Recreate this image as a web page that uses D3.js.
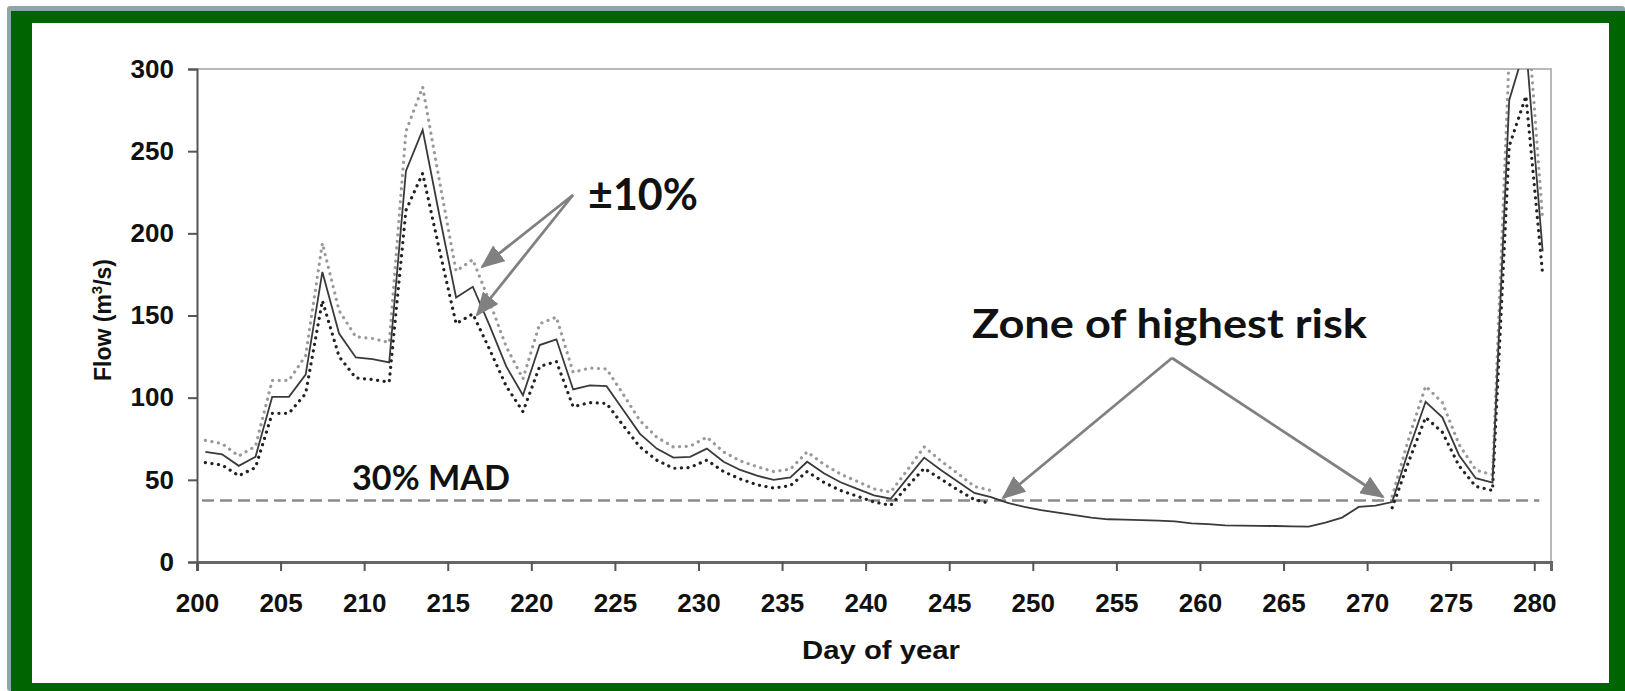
<!DOCTYPE html>
<html>
<head>
<meta charset="utf-8">
<script src="https://cdn.jsdelivr.net/npm/d3@7"></script>
<style>
  html, body { margin: 0; padding: 0; background: #fff; }
  svg { display: block; }
</style>
</head>
<body>
<svg id="chart" width="1625" height="691"></svg>
<script>
// ---------------- DATA ----------------
const days = [200,201,202,203,204,205,206,207,208,209,210,211,212,213,214,215,216,217,218,219,
  220,221,222,223,224,225,226,227,228,229,230,231,232,233,234,235,236,237,238,239,
  240,241,242,243,244,245,246,247,248,249,250,251,252,253,254,255,256,257,258,259,
  260,261,262,263,264,265,266,267,268,269,270,271,272,273,274,275,276,277,278,279,280];

const flow = [67,65.5,58.5,64,100.5,100.5,114,176.5,139,124.5,123.5,121.5,238,263,211,161,167.5,144,119,101.5,
  132,135.5,105,107.5,107,92.5,78,69,63.5,64,69,61,56,52.5,50,51.5,61,54,48.5,44.5,
  40.5,38.5,51,63.5,56,49,42,39.5,36,33.5,31.5,30,28.5,27,26,25.8,25.5,25.2,24.7,23.5,
  23,22.3,22.1,22,21.9,21.7,21.5,24,27,33.5,34.3,36.5,68.5,97.5,88,65,51,48.3,281,315,189];

const flowUpper = [74,72,64.5,70.5,110.5,110.5,125.5,194,153,137,136,133.5,262,289,232,177,184,158.5,131,111.5,
  145,149,115.5,118,117.5,102,86,76,70,70.5,76,67,61.5,58,55,56.5,67,59.5,53.5,49,
  44.5,42.5,56,70,61.5,54,46,43.5,null,null,null,null,null,null,null,null,null,null,null,null,
  null,null,null,null,null,null,null,null,null,null,null,40,75.5,107,97,71.5,56,53,309,346,208];

const flowLower = [60.5,59,52.5,57.5,90.5,90.5,102.5,159,125,112,111,109.5,214,236.5,190,145,151,129.5,107,91.5,
  119,122,94.5,97,96.5,83,70,62,57,57.5,62,55,50.5,47,45,46.5,55,48.5,43.5,40,
  36.5,34.5,46,57,50.5,44,38,35.5,null,null,null,null,null,null,null,null,null,null,null,null,
  null,null,null,null,null,null,null,null,null,null,null,33,61.5,88,79,58.5,46,43.5,253,283.5,175];

const madValue = 37.5;
const yTicks = [0,50,100,150,200,250,300];
const xTicks = [200,205,210,215,220,225,230,235,240,245,250,255,260,265,270,275,280];

(function(){
// ---------------- LAYOUT ----------------
const svg = d3.select("#chart");
const W = 1625, H = 691;
const pL = 197, pR = 1551, pT = 69, pB = 562;
const axisFont = "'Liberation Sans', Arial, sans-serif";

// frame
svg.append("rect").attr("x",0).attr("y",0).attr("width",W).attr("height",H).attr("fill","#ffffff");
svg.append("rect").attr("x",7).attr("y",6).attr("width",W-7).attr("height",H-6).attr("rx",3).attr("fill","#8fa5ab");
svg.append("rect").attr("x",11).attr("y",11).attr("width",W-11).attr("height",H-11).attr("fill","#006400");
svg.append("rect").attr("x",32).attr("y",23).attr("width",1609-32).attr("height",683-23).attr("fill","#ffffff");

const x = d3.scaleLinear().domain([200, 281]).range([pL, pR]);
const y = d3.scaleLinear().domain([0, 300]).range([pB, pT]);
const px = d => x(d + 0.5);

const defs = svg.append("defs");
defs.append("clipPath").attr("id","plotclip")
  .append("rect").attr("x",pL).attr("y",pT).attr("width",pR-pL).attr("height",pB-pT);

// top/right frame of plot
svg.append("path")
  .attr("d", `M${pL},${pT}H${pR}V${pB}`)
  .attr("fill","none").attr("stroke","#b8b8b8").attr("stroke-width",2);

// Y axis
const yAxis = svg.append("g").attr("transform",`translate(${pL},0)`)
  .call(d3.axisLeft(y).tickValues(yTicks).tickSize(9).tickPadding(14).tickFormat(d3.format("d")));
yAxis.select(".domain").attr("stroke","#555").attr("stroke-width",2);
yAxis.selectAll(".tick line").attr("stroke","#555").attr("stroke-width",2);
yAxis.selectAll(".tick text").attr("font-family",axisFont)
  .attr("font-weight","bold").attr("font-size",26).attr("fill","#111");

// X axis ticks
const xAxisT = svg.append("g").attr("transform",`translate(0,${pB})`)
  .call(d3.axisBottom(x).tickValues(xTicks).tickSize(9).tickFormat(""));
xAxisT.select(".domain").attr("stroke","#666").attr("stroke-width",3);
xAxisT.selectAll(".tick line").attr("stroke","#555").attr("stroke-width",2);

// X axis labels (centered on categories)
const xLab = svg.append("g").attr("transform",`translate(0,${pB})`)
  .call(d3.axisBottom(d3.scaleLinear().domain([200.5, 281.5]).range([pL, pR]))
    .tickValues(xTicks.map(d => d + 0.5)).tickSize(0).tickPadding(32).tickFormat(d => d3.format("d")(d - 0.5)));
xLab.select(".domain").remove();
xLab.selectAll(".tick text").attr("font-family",axisFont)
  .attr("font-weight","bold").attr("font-size",26).attr("fill","#111");

// axis titles
svg.append("text").attr("x",881).attr("y",659).attr("text-anchor","middle")
  .attr("font-family",axisFont).attr("font-weight","bold")
  .attr("font-size",26).attr("textLength",158).attr("lengthAdjust","spacingAndGlyphs")
  .attr("fill","#111").text("Day of year");

const yt = svg.append("text").attr("transform","translate(111,320) rotate(-90)").attr("text-anchor","middle")
  .attr("font-family",axisFont).attr("font-weight","bold")
  .attr("font-size",23).attr("fill","#111");
yt.append("tspan").text("Flow (m");
yt.append("tspan").attr("font-size",15).attr("dy",-9).text("3");
yt.append("tspan").attr("dy",9).text("/s)");

// lines
const plot = svg.append("g").attr("clip-path","url(#plotclip)");
const line = d3.line().defined(d => d[1] != null).x(d => px(d[0])).y(d => y(d[1]));

// MAD dashed
plot.append("line").attr("x1",x(200.3)).attr("x2",x(280.3)).attr("y1",y(madValue)).attr("y2",y(madValue))
  .attr("stroke","#8a8a8a").attr("stroke-width",2.5).attr("stroke-dasharray","12,6");

plot.append("path").datum(days.map((d,i) => [d, flowUpper[i]])).attr("d", line)
  .attr("fill","none").attr("stroke","#9a9a9a").attr("stroke-width",3.2)
  .attr("stroke-linecap","round").attr("stroke-dasharray","0.1,6.5");
plot.append("path").datum(days.map((d,i) => [d, flowLower[i]])).attr("d", line)
  .attr("fill","none").attr("stroke","#222").attr("stroke-width",3.2)
  .attr("stroke-linecap","round").attr("stroke-dasharray","0.1,6.5");
plot.append("path").datum(days.map((d,i) => [d, flow[i]])).attr("d", line)
  .attr("fill","none").attr("stroke","#3a3a3a").attr("stroke-width",1.8);

// annotations
defs.append("marker").attr("id","ah").attr("markerUnits","userSpaceOnUse")
  .attr("markerWidth",24).attr("markerHeight",20).attr("refX",22).attr("refY",10)
  .attr("orient","auto").attr("viewBox","0 0 24 20")
  .append("path").attr("d","M0,0 L24,10 L0,20 Z").attr("fill","#808080");

function arrow(x1,y1,x2,y2){
  svg.append("line").attr("x1",x1).attr("y1",y1).attr("x2",x2).attr("y2",y2)
    .attr("stroke","#808080").attr("stroke-width",2.8).attr("marker-end","url(#ah)");
}
arrow(573,195,482,267);
arrow(573,195,477,315);
arrow(1172,358,1003,498);
arrow(1172,358,1383,497);

const annFont = "Lato, 'Open Sans', sans-serif";
svg.append("text").attr("x",588).attr("y",210).attr("font-family",annFont).attr("font-weight","bold")
  .attr("font-size",43).attr("textLength",110).attr("lengthAdjust","spacingAndGlyphs")
  .attr("fill","#111").text("±10%");
svg.append("text").attr("x",972).attr("y",338).attr("font-family",annFont).attr("font-weight","bold")
  .attr("font-size",41).attr("textLength",395).attr("lengthAdjust","spacingAndGlyphs")
  .attr("fill","#111").text("Zone of highest risk");
svg.append("text").attr("x",352).attr("y",490).attr("font-family",annFont).attr("font-weight","bold")
  .attr("font-size",34).attr("textLength",158).attr("lengthAdjust","spacingAndGlyphs")
  .attr("fill","#111").text("30% MAD");
})();
</script>
</body>
</html>
